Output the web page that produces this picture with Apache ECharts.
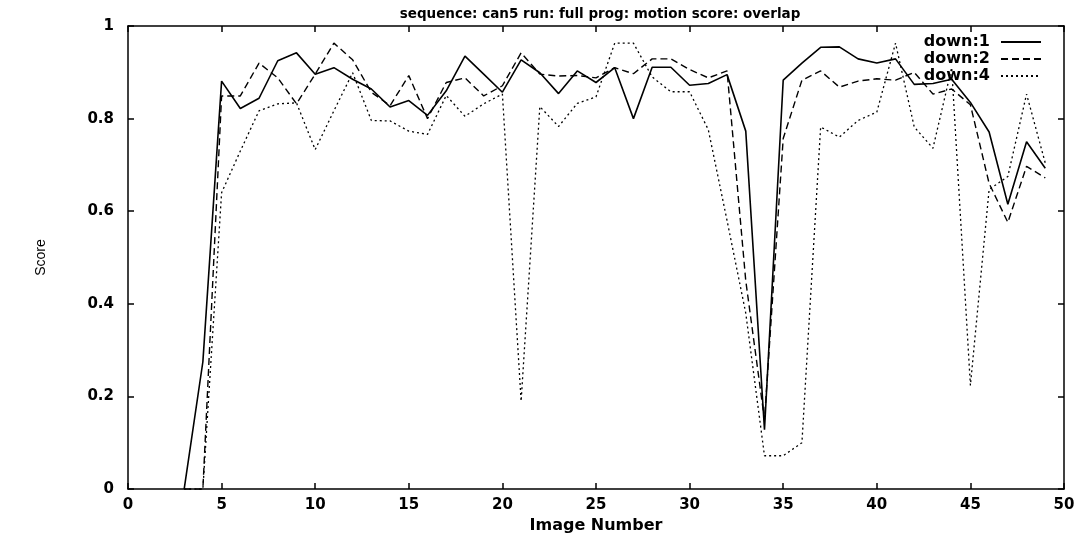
<!DOCTYPE html>
<html><head><meta charset="utf-8">
<script src="https://cdn.jsdelivr.net/npm/echarts@6/dist/echarts.min.js"></script>
<style>html,body{margin:0;padding:0;background:#fff}#c{width:1081px;height:539px}</style>
</head><body><div id="c"></div>
<script>
const imageNumbers = [3,4,5,6,7,8,9,10,11,12,13,14,15,16,17,18,19,20,21,22,23,24,25,26,27,28,29,30,31,32,33,34,35,36,37,38,39,40,41,42,43,44,45,46,47,48,49];
const down1 = [0,0.275,0.881,0.822,0.844,0.925,0.942,0.896,0.910,0.885,0.864,0.825,0.839,0.807,0.86,0.935,0.896,0.857,0.927,0.899,0.854,0.903,0.878,0.910,0.800,0.911,0.911,0.872,0.876,0.895,0.773,0.128,0.883,0.920,0.954,0.955,0.929,0.920,0.929,0.874,0.876,0.885,0.835,0.771,0.615,0.750,0.693];
const down2 = [0,0,0.849,0.849,0.920,0.888,0.832,0.896,0.963,0.927,0.857,0.828,0.893,0.800,0.878,0.888,0.849,0.871,0.942,0.896,0.892,0.893,0.888,0.910,0.897,0.929,0.929,0.906,0.888,0.903,0.45,0.15,0.757,0.883,0.903,0.868,0.881,0.886,0.883,0.90,0.853,0.864,0.83,0.66,0.576,0.697,0.672];
const down4 = [0,0,0.64,0.73,0.817,0.832,0.834,0.733,0.817,0.899,0.796,0.795,0.773,0.766,0.85,0.805,0.832,0.853,0.19,0.826,0.783,0.833,0.847,0.963,0.963,0.89,0.858,0.858,0.776,0.58,0.38,0.072,0.072,0.1,0.782,0.760,0.796,0.814,0.963,0.782,0.736,0.91,0.224,0.647,0.675,0.853,0.704];
const seriesNames = ['down:1','down:2','down:4'];
const titleText = 'sequence: can5 run: full prog: motion score: overlap';

const pairs = v => imageNumbers.map((x,i)=>[x,v[i]]);
const font = '"DejaVu Sans", "Liberation Sans", sans-serif';
const lbl = {color:'#000', fontFamily:font, fontSize:15, fontWeight:'bold'};
const chart = echarts.init(document.getElementById('c'), null, {renderer:'canvas'});
const xBase = {type:'value', min:0, max:50, interval:5, splitLine:{show:false},
  axisLine:{show:true, onZero:false, lineStyle:{color:'#000', width:1.5}},
  axisTick:{show:true, inside:true, length:6, lineStyle:{color:'#000', width:1.5}}};
const yBase = {type:'value', min:0, max:1, interval:0.2, splitLine:{show:false},
  axisLine:{show:true, onZero:false, lineStyle:{color:'#000', width:1.5}},
  axisTick:{show:true, inside:true, length:6, lineStyle:{color:'#000', width:1.5}}};
chart.setOption({
  animation:false,
  backgroundColor:'#fff',
  title:{text:titleText, left:595, top:2, textAlign:'center',
    textStyle:{color:'#000', fontFamily:font, fontSize:13.5, fontWeight:'bold'}},
  grid:{left:128, right:17, top:26, bottom:44},
  legend:{top:29, right:34, orient:'vertical', align:'right', itemGap:1, itemWidth:40, itemHeight:14,
    itemStyle:{opacity:0, borderWidth:0},
    textStyle:{color:'#000', fontFamily:font, fontSize:16, fontWeight:'bold', padding:[0,6,0,0]},
    data:seriesNames},
  xAxis:[
    Object.assign({}, xBase, {position:'bottom', name:'Image Number', nameLocation:'middle', nameGap:27,
      nameTextStyle:{color:'#000', fontFamily:font, fontSize:16, fontWeight:'bold'},
      axisLabel:Object.assign({margin:9}, lbl)}),
    Object.assign({}, xBase, {position:'top', axisLabel:{show:false}})
  ],
  yAxis:[
    Object.assign({}, yBase, {position:'left', name:'Score', nameLocation:'middle', nameGap:80, nameRotate:90,
      nameTextStyle:{color:'#000', fontFamily:'"Liberation Sans", sans-serif', fontSize:14},
      axisLabel:Object.assign({margin:14}, lbl)}),
    Object.assign({}, yBase, {position:'right', axisLabel:{show:false}})
  ],
  series:[
    {name:seriesNames[0], type:'line', data:pairs(down1), showSymbol:false, symbol:'none',
      lineStyle:{color:'#000', width:1.6, type:'solid'}, itemStyle:{color:'#000'}},
    {name:seriesNames[1], type:'line', data:pairs(down2), showSymbol:false, symbol:'none',
      lineStyle:{color:'#000', width:1.4, type:[7,4]}, itemStyle:{color:'#000'}},
    {name:seriesNames[2], type:'line', data:pairs(down4), showSymbol:false, symbol:'none',
      lineStyle:{color:'#000', width:1.3, type:[2,3]}, itemStyle:{color:'#000'}}
  ]
});
</script></body></html>
